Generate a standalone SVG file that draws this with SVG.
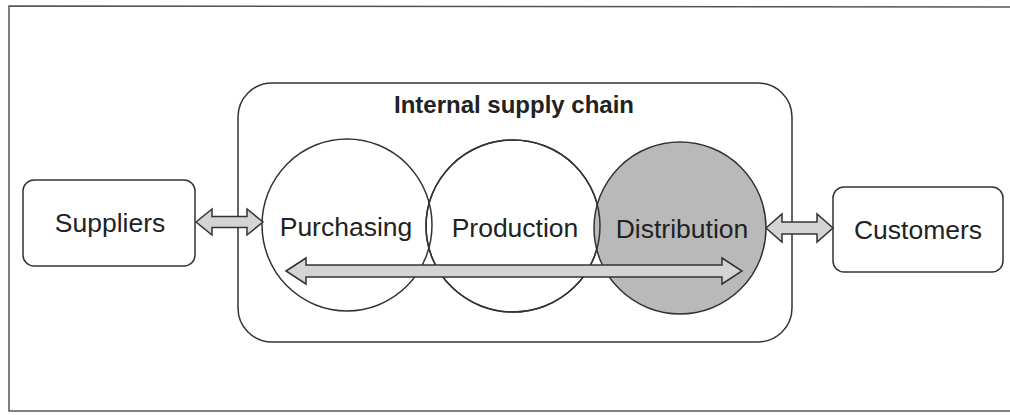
<svg xmlns="http://www.w3.org/2000/svg" width="1010" height="415" viewBox="0 0 1010 415">
<style>
text{font-family:"Liberation Sans",Arial,sans-serif;font-size:26.5px;fill:#222;text-anchor:middle}
.box{fill:#fff;stroke:#333;stroke-width:1.5}
.circ{fill:#fff;stroke:#333;stroke-width:1.5}
.arr{fill:#d4d4d4;stroke:#333;stroke-width:1.5;stroke-linejoin:miter}
</style>
<rect width="1010" height="415" fill="#fff"/>
<path d="M1012 7 L9 6 L9 411 L1012 411" fill="none" stroke="#555" stroke-width="1.5"/>
<g id="internal">
<rect class="box" x="238" y="83" width="554" height="259" rx="34"/>
<text x="514" y="113" style="font-weight:bold;font-size:24px">Internal supply chain</text>
</g>
<g id="purchasing">
<ellipse class="circ" cx="347" cy="225" rx="85" ry="86"/>
</g>
<g id="production">
<ellipse class="circ" cx="513" cy="226" rx="87" ry="86" fill-opacity="0"/>
</g>
<g id="distribution">
<ellipse class="circ" cx="680" cy="228" rx="86" ry="86" style="fill:#b9b9b9"/>
</g>
<ellipse cx="513" cy="226" rx="87" ry="86" fill="none" stroke="#333" stroke-width="1.5"/>
<text x="346" y="236">Purchasing</text>
<text x="515" y="237">Production</text>
<text x="682" y="238">Distribution</text>
<g id="suppliers">
<rect class="box" x="23" y="180" width="172" height="86" rx="11"/>
<text x="110" y="232">Suppliers</text>
</g>
<g id="customers">
<rect class="box" x="833" y="187" width="170" height="85" rx="11"/>
<text x="918" y="239">Customers</text>
</g>
<g id="connectors">
<path class="arr" d="M196 222 L212 209 L212 216.5 L247 216.5 L247 209 L263 222 L247 235 L247 227.5 L212 227.5 L212 235 Z"/>
<path class="arr" d="M766 228 L782 214 L782 222 L817 222 L817 214 L833 228 L817 242 L817 234 L782 234 L782 242 Z"/>
<path class="arr" d="M286 271 L306 258 L306 265 L722 265 L722 258 L742 271 L722 284 L722 277 L306 277 L306 284 Z"/>
</g>
</svg>
